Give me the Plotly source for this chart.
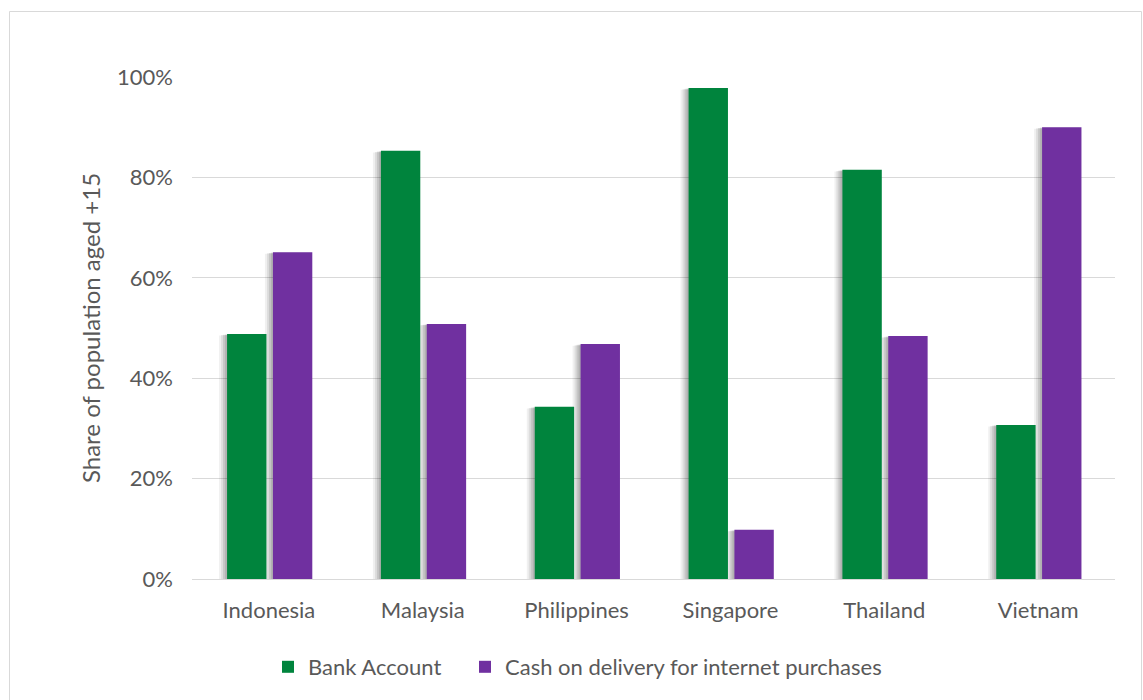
import plotly.graph_objects as go

countries = ["Indonesia", "Malaysia", "Philippines", "Singapore", "Thailand", "Vietnam"]
bank_account = [48.8, 85.3, 34.3, 97.8, 81.5, 30.7]
cash_on_delivery = [65.1, 50.8, 46.8, 9.8, 48.4, 90.0]
series_names = ["Bank Account", "Cash on delivery for internet purchases"]
y_ticks = [0, 20, 40, 60, 80, 100]
y_tick_labels = ["0%", "20%", "40%", "60%", "80%", "100%"]

GREEN = "#00843D"
PURPLE = "#7030A0"
TEXT = "#595959"
FONT = "Lato, 'Open Sans', sans-serif"

W, H = 1143, 700
ML, MR, MT, MB = 192, 28, 77, 121
pw, ph = W - ML - MR, H - MT - MB
cat_px = pw / len(countries)
y_px = ph / 100.0

BAR_W = 0.256
OFFSETS = [-0.272, 0.026]

fig = go.Figure()

# soft drop shadows (left side, slightly below top), drawn beneath the bars
shadow_layers = [(8, 1.6, 0.06), (6, 1.1, 0.08), (4, 0.7, 0.10), (2, 0.4, 0.10)]
for vals, off in [(bank_account, OFFSETS[0]), (cash_on_delivery, OFFSETS[1])]:
    for dx, dy, op in shadow_layers:
        d = dx / cat_px
        fig.add_trace(go.Bar(
            x=countries, y=[max(v - dy / y_px, 0) for v in vals],
            width=BAR_W, offset=off - d,
            marker=dict(color=f"rgba(0,0,0,{op})", line=dict(width=0)),
            showlegend=False, hoverinfo="skip"))

legend_ids = ["legend", "legend2"]
for vals, name, color, off, lg in [(bank_account, series_names[0], GREEN, OFFSETS[0], legend_ids[0]),
                                   (cash_on_delivery, series_names[1], PURPLE, OFFSETS[1], legend_ids[1])]:
    fig.add_trace(go.Bar(x=countries, y=vals, name=name, width=BAR_W, offset=off, legend=lg,
                         marker=dict(color=color, line=dict(width=0))))

def px_x(p):
    return (p - ML) / pw

def px_y(p):
    return (H - MB - p) / ph

fig.add_shape(type="rect", xref="paper", yref="paper",
              x0=px_x(9.5), x1=px_x(1141.5), y0=px_y(705), y1=px_y(11.5),
              line=dict(color="#D9D9D9", width=1), layer="below")

legend_common = dict(orientation="h", yanchor="middle", xanchor="left",
                     font=dict(size=22, color=TEXT), itemwidth=30, bgcolor="rgba(0,0,0,0)")

fig.update_layout(
    width=W, height=H,
    margin=dict(l=ML, r=MR, t=MT, b=MB, autoexpand=False),
    paper_bgcolor="white", plot_bgcolor="white",
    font=dict(family=FONT, color=TEXT, size=22),
    barmode="overlay",
    showlegend=True,
    legend=dict(x=px_x(268), y=px_y(667), **legend_common),
    legend2=dict(x=px_x(465), y=px_y(667), **legend_common),
    xaxis=dict(showgrid=False, showline=True, linecolor="#D9D9D9", linewidth=1,
               tickfont=dict(size=22, color=TEXT), ticks="", ticklabelstandoff=12),
    yaxis=dict(range=[0, 100], tickvals=y_ticks, ticktext=y_tick_labels,
               showgrid=True, gridcolor="#D9D9D9", gridwidth=1,
               zeroline=True, zerolinecolor="#D9D9D9", zerolinewidth=1,
               showline=False, ticks="", ticklabelstandoff=18,
               tickfont=dict(size=22, color=TEXT),
               title=dict(text="Share of population aged +15", font=dict(size=24, color=TEXT), standoff=9)),
)

fig.write_html("out.html")
